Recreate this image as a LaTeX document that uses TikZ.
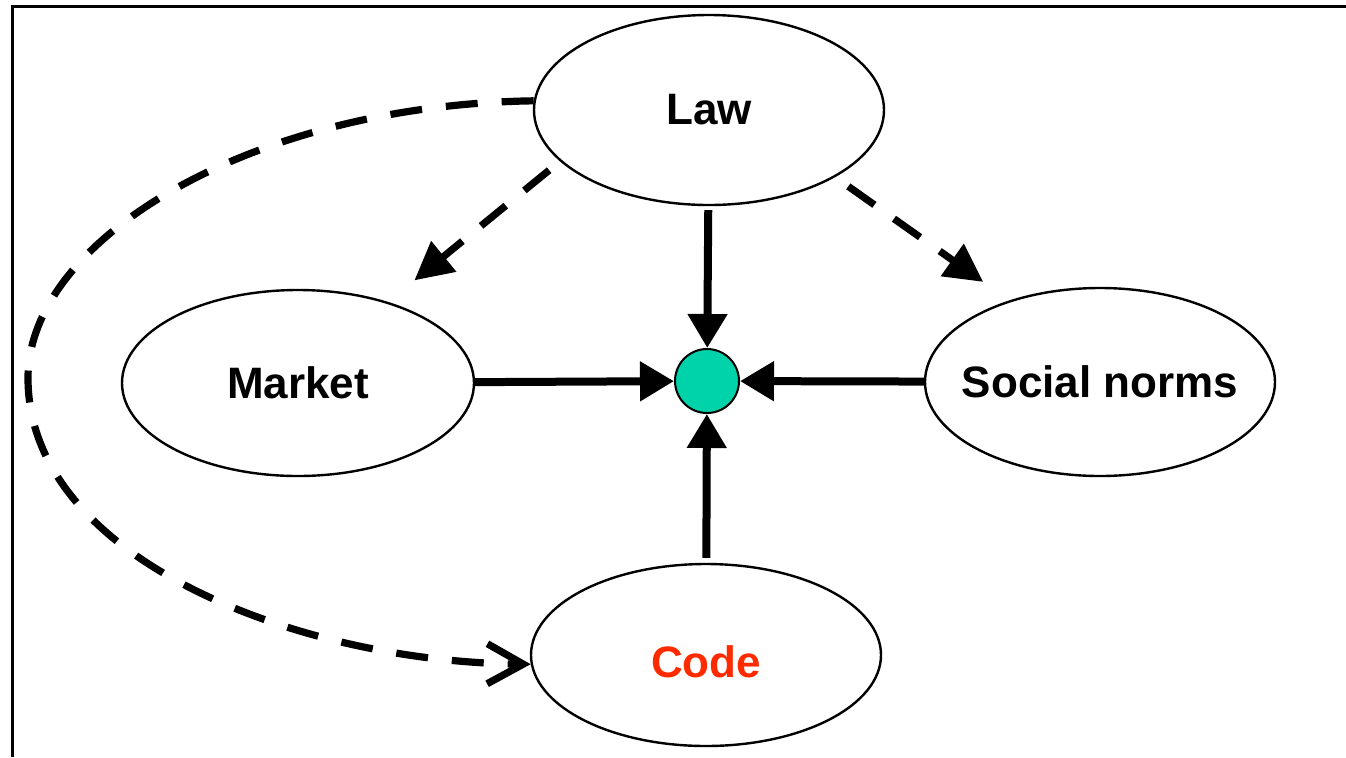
\documentclass[tikz,border=0pt]{standalone}
\usepackage{fontspec}
\setsansfont{Liberation Sans}
\usepackage{tikz}
\usetikzlibrary{arrows.meta,positioning,shapes.geometric}
\definecolor{cgreen}{HTML}{00D2AA}
\definecolor{cred}{HTML}{FF2A00}

\begin{document}
\begin{tikzpicture}[x=0.5pt,y=-0.5pt,every node/.style={font=\sffamily\bfseries\fontsize{22}{26}\selectfont},
  oval/.style={ellipse,draw,line width=1.2pt,inner sep=0pt,minimum width=175pt,minimum height=93pt},
  solidarr/.style={line width=4pt,-{Triangle[length=17pt,width=19pt]}},
  dasharr/.style={line width=3.6pt,dash pattern=on 16pt off 12pt,-{Triangle[length=19pt,width=19pt]}}]
  \useasboundingbox (0,0) rectangle (1346,757);
  \draw[line width=1.5pt] (12,757) -- (12,6) -- (1346,6);
  \node[oval,minimum height=95pt] (law) at (709,110) {Law};
  \node[oval,minimum width=176pt] (market) at (298,383) {Market};
  \node[oval,minimum height=94pt,inner xsep=-12pt] (social) at (1100,382) {Social norms};
  \node[oval,minimum height=91pt,text=cred] (code) at (706,655) {\raisebox{-11pt}[0pt][0pt]{Code}};
  \node[circle,draw,line width=1pt,fill=cgreen,minimum size=32pt,inner sep=0pt] (dot) at (707,381) {};
  \coordinate (far) at (28,378);
  % solid influences on the dot
  \draw[solidarr,shorten <=2pt] (law) -- (dot);
  \foreach \n in {market,social}{\draw[solidarr] (\n) -- (dot);}
  \draw[solidarr,shorten <=2.5pt] (code) -- (dot);
  % indirect (dashed) influences of law
  \draw[dasharr,shorten <=7pt,shorten >=17pt] (law.199) -- (market.42);
  \draw[dasharr,shorten <=8pt,shorten >=16pt] (law.332) -- (social.138);
  \draw[dasharr,-{Straight Barb[length=18pt,width=20pt]}] (law.177) .. controls (250,105) and (28,240) .. (far)
    .. controls (28,560) and (300,662) .. (code.183);
\end{tikzpicture}
\end{document}
